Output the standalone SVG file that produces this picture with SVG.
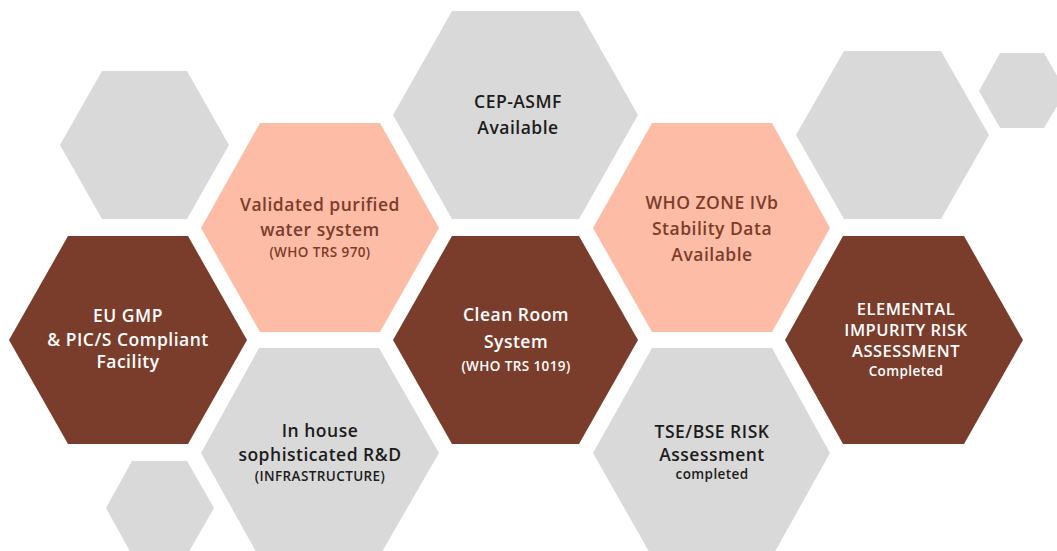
<svg xmlns="http://www.w3.org/2000/svg" width="1057" height="551" viewBox="0 0 1057 551">
<style>
.gray{fill:#d9d9d9}
.salmon{fill:#fdbca6}
.brown{fill:#7b3d2b}
text{font-family:"Open Sans","Liberation Sans",sans-serif;font-weight:600;text-anchor:middle;letter-spacing:0.5px}
.m{font-size:17.5px}
.e{font-size:16.5px}
.s{font-size:13.5px;letter-spacing:0.4px}
.tg{fill:#1c1c1c}
.ts{fill:#7b3d2b}
.tb{fill:#ffffff}
</style>
<rect width="1057" height="551" fill="#ffffff"/>
<g id="connectors"></g>
<g id="deco-gray-topleft"><polygon class="gray" points="102,71 187,71 229,145 187,219 102,219 60,145"/></g>
<g id="deco-gray-bottomleft"><polygon class="gray" points="132,461 187,461 214,508 187,555 132,555 106,508"/></g>
<g id="deco-gray-right"><polygon class="gray" points="844,51 941,51 989,135 941,219 844,219 796,135"/></g>
<g id="deco-gray-farright"><polygon class="gray" points="1000,53 1044,53 1066,91 1044,128 1000,128 979,91"/></g>
<g id="node-water">
<polygon class="salmon" points="260,123 380,123 439,228 380,332 260,332 201,228"/>
<text class="m ts" x="320" y="211">Validated purified</text>
<text class="m ts" x="320" y="236">water system</text>
<text class="s ts" x="320" y="257">(WHO TRS 970)</text>
</g>
<g id="node-cep">
<polygon class="gray" points="452,11 579,11 638,115 579,219 452,219 393,115"/>
<text class="m tg" x="518" y="108">CEP-ASMF</text>
<text class="m tg" x="518" y="134">Available</text>
</g>
<g id="node-who-zone">
<polygon class="salmon" points="652,123 772,123 830,228 772,332 652,332 593,228"/>
<text class="m ts" x="712" y="209">WHO ZONE IVb</text>
<text class="m ts" x="712" y="235">Stability Data</text>
<text class="m ts" x="712" y="261">Available</text>
</g>
<g id="node-eugmp">
<polygon class="brown" points="68,236 188,236 247,340 188,444 68,444 9,340"/>
<text class="m tb" x="128" y="322">EU GMP</text>
<text class="m tb" x="128" y="346">&amp; PIC/S Compliant</text>
<text class="m tb" x="128" y="368">Facility</text>
</g>
<g id="node-cleanroom">
<polygon class="brown" points="452,236 579,236 638,340 579,444 452,444 393,340"/>
<text class="m tb" x="516" y="321">Clean Room</text>
<text class="m tb" x="516" y="348">System</text>
<text class="s tb" x="516" y="371">(WHO TRS 1019)</text>
</g>
<g id="node-elemental">
<polygon class="brown" points="843,236 964,236 1023,340 964,444 843,444 785,340"/>
<text class="e tb" x="906" y="315">ELEMENTAL</text>
<text class="e tb" x="906" y="336">IMPURITY RISK</text>
<text class="e tb" x="906" y="357">ASSESSMENT</text>
<text class="s tb" x="906" y="376">Completed</text>
</g>
<g id="node-rnd">
<polygon class="gray" points="259,348 379,348 439,453 379,557 259,557 201,453"/>
<text class="m tg" x="320" y="437">In house</text>
<text class="m tg" x="320" y="461">sophisticated R&amp;D</text>
<text class="s tg" x="320" y="481">(INFRASTRUCTURE)</text>
</g>
<g id="node-tse">
<polygon class="gray" points="652,348 772,348 830,453 772,557 652,557 593,453"/>
<text class="m tg" x="712" y="438">TSE/BSE RISK</text>
<text class="m tg" x="712" y="461">Assessment</text>
<text class="s tg" x="712" y="479">completed</text>
</g>
</svg>
